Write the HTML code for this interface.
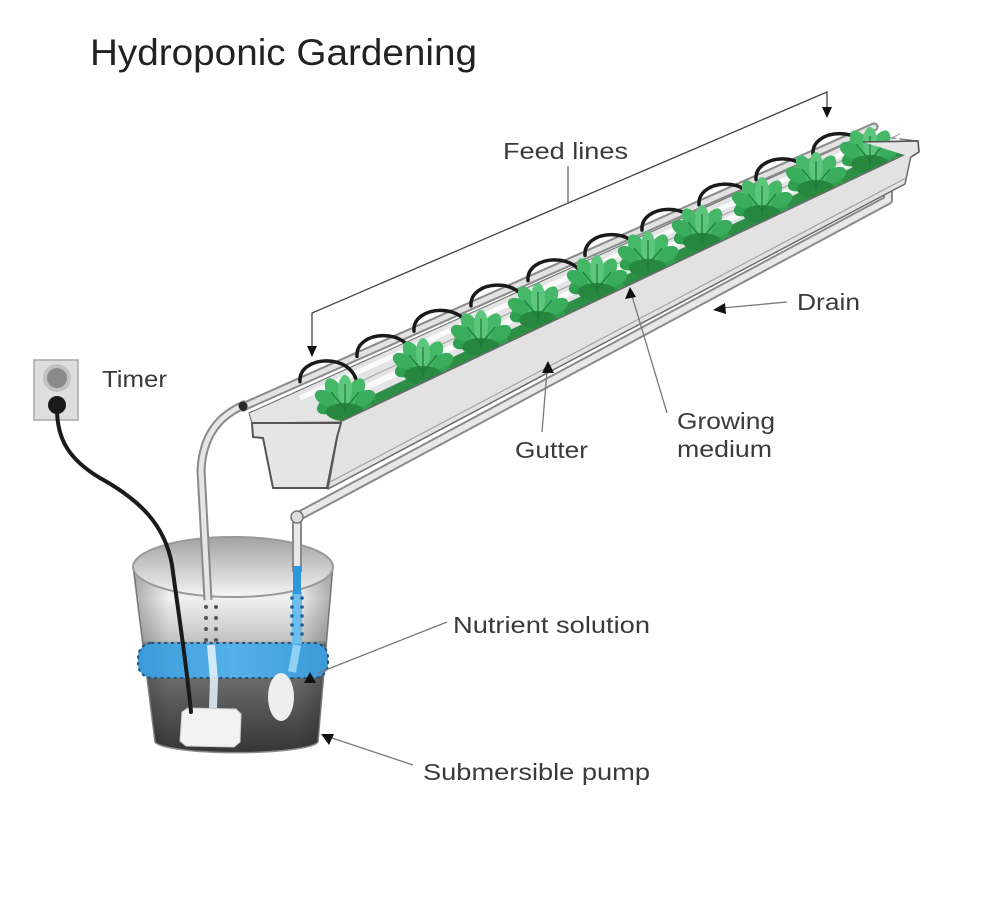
<!DOCTYPE html>
<html><head><meta charset="utf-8"><style>
html,body{margin:0;padding:0;background:#fff;}
svg{display:block;}
text{font-family:"Liberation Sans",Arial,sans-serif;}
</style></head><body>
<svg width="989" height="900" viewBox="0 0 989 900" xmlns="http://www.w3.org/2000/svg">
<defs>
 <linearGradient id="body" gradientUnits="userSpaceOnUse" x1="0" y1="560" x2="0" y2="752">
  <stop offset="0" stop-color="#d6d6d6"/>
  <stop offset="0.2" stop-color="#f0f0f0"/>
  <stop offset="0.42" stop-color="#c4c4c4"/>
  <stop offset="0.44" stop-color="#858585"/>
  <stop offset="0.62" stop-color="#6a6a6a"/>
  <stop offset="1" stop-color="#363636"/>
 </linearGradient>
 <linearGradient id="side" x1="0" y1="0" x2="1" y2="0">
  <stop offset="0" stop-color="#000" stop-opacity="0.28"/>
  <stop offset="0.18" stop-color="#000" stop-opacity="0"/>
  <stop offset="0.82" stop-color="#000" stop-opacity="0"/>
  <stop offset="1" stop-color="#000" stop-opacity="0.28"/>
 </linearGradient>
 <linearGradient id="open" x1="0" y1="0" x2="0" y2="1">
  <stop offset="0" stop-color="#a2a2a2"/>
  <stop offset="0.55" stop-color="#cfcfcf"/>
  <stop offset="1" stop-color="#f6f6f6"/>
 </linearGradient>
 <linearGradient id="blue" x1="0" y1="0" x2="1" y2="0">
  <stop offset="0" stop-color="#3b9bd8"/>
  <stop offset="0.5" stop-color="#55b0e8"/>
  <stop offset="1" stop-color="#3b9bd8"/>
 </linearGradient>
 <g id="plant">
  <ellipse cx="-15" cy="5" rx="14" ry="8" transform="rotate(-25 -15 5)" fill="#2f9f50"/>
  <ellipse cx="15" cy="5" rx="14" ry="8" transform="rotate(25 15 5)" fill="#2f9f50"/>
  <ellipse cx="-10" cy="-8" rx="8" ry="15" transform="rotate(-30 -10 -8)" fill="#46b968"/>
  <ellipse cx="10" cy="-8" rx="8" ry="15" transform="rotate(30 10 -8)" fill="#46b968"/>
  <ellipse cx="0" cy="-10" rx="7" ry="15" fill="#5cc77c"/>
  <ellipse cx="-20" cy="-2" rx="7" ry="11" transform="rotate(-60 -20 -2)" fill="#3aad5c"/>
  <ellipse cx="20" cy="-2" rx="7" ry="11" transform="rotate(60 20 -2)" fill="#3aad5c"/>
  <ellipse cx="0" cy="12" rx="19" ry="9" fill="#27873f"/>
  <path d="M0 14 L0 -16 M0 9 L-14 -8 M0 9 L14 -8" stroke="#1f7a36" stroke-width="1.2" fill="none"/>
 </g>
</defs>

<!-- Title -->
<text x="90" y="65" font-size="37" fill="#222" textLength="387" lengthAdjust="spacingAndGlyphs">Hydroponic Gardening</text>

<!-- Bucket -->
<path d="M133 566 L155 742 A82 12 0 0 0 318 742 L333 566 Z" fill="url(#body)" stroke="#8a8a8a" stroke-width="1.5"/>
<path d="M133 566 L155 742 A82 12 0 0 0 318 742 L333 566 Z" fill="url(#side)"/>
<ellipse cx="233" cy="567" rx="100" ry="30" fill="url(#open)" stroke="#999" stroke-width="2"/>
<!-- water band -->
<rect x="138" y="643" width="190" height="35" rx="14" fill="url(#blue)" stroke="#234f78" stroke-width="2" stroke-dasharray="1.5 5" stroke-linecap="round"/>
<!-- hose dots -->
<g fill="#555">
 <circle cx="206" cy="607" r="2"/><circle cx="216" cy="607" r="2"/>
 <circle cx="206" cy="618" r="2"/><circle cx="216" cy="618" r="2"/>
 <circle cx="206" cy="629" r="2"/><circle cx="216" cy="629" r="2"/>
 <circle cx="206" cy="640" r="2"/><circle cx="216" cy="640" r="2"/>
</g>
<path d="M211 645 L214 680 L213 708" stroke="#e6f2fa" stroke-width="8" fill="none" opacity="0.85"/>
<!-- drain return column -->
<rect x="292" y="592" width="10" height="52" fill="#6cbdec"/>
<g fill="#1e5f96">
 <circle cx="292" cy="598" r="1.8"/><circle cx="302" cy="598" r="1.8"/>
 <circle cx="292" cy="607" r="1.8"/><circle cx="302" cy="607" r="1.8"/>
 <circle cx="292" cy="616" r="1.8"/><circle cx="302" cy="616" r="1.8"/>
 <circle cx="292" cy="625" r="1.8"/><circle cx="302" cy="625" r="1.8"/>
 <circle cx="292" cy="634" r="1.8"/><circle cx="302" cy="634" r="1.8"/>
</g>
<path d="M297 645 L292 672" stroke="#8fd0f4" stroke-width="8" fill="none"/>
<!-- pump & splash -->
<path d="M182 712 L188 708 L236 709 L241 714 L240 742 L234 747 L186 746 L180 741 Z" fill="#f2f2f2" stroke="#cfcfcf" stroke-width="1"/>
<ellipse cx="281" cy="697" rx="13" ry="24" fill="#eeeeee"/>

<!-- Drain pipe -->
<path d="M888 190 L888 200 L297 517 L297 572" fill="none" stroke="#8a8a8a" stroke-width="10" stroke-linejoin="round"/>
<path d="M888 190 L888 200 L297 517 L297 572" fill="none" stroke="#e8e8e8" stroke-width="6" stroke-linejoin="round"/>
<circle cx="297" cy="517" r="6" fill="#dcdcdc" stroke="#777" stroke-width="1.5"/>
<line x1="297" y1="566" x2="297" y2="594" stroke="#2f95dd" stroke-width="8"/>

<!-- Gutter interior -->
<polygon points="252,423 249,413 866,135 918,141 912,151 340,422" fill="#e4e4e4" stroke="#777" stroke-width="1.2"/>
<line x1="300" y1="398" x2="900" y2="128" stroke="#fbfbfb" stroke-width="5"/>
<line x1="320" y1="400" x2="900" y2="134" stroke="#a9a9a9" stroke-width="1.2"/>
<line x1="330" y1="404" x2="900" y2="140" stroke="#fafafa" stroke-width="6"/>
<line x1="340" y1="411" x2="900" y2="146" stroke="#b0b0b0" stroke-width="1.2"/>
<!-- feed pipe -->
<line x1="245" y1="406" x2="874" y2="127" stroke="#8a8a8a" stroke-width="9" stroke-linecap="round"/>
<line x1="245" y1="406" x2="874" y2="127" stroke="#e2e2e2" stroke-width="5" stroke-linecap="round"/>
<circle cx="243" cy="407" r="4.5" fill="#2a2a2a"/>
<!-- green growing medium strip -->
<line x1="345" y1="414" x2="905" y2="148" stroke="#2d8f45" stroke-width="10"/>
<!-- feed arcs -->
<g fill="none" stroke="#1a1a1a" stroke-width="3.5" stroke-linecap="round">
 <path d="M300 381.6 c-2 -26 52 -30 57 2"/>
 <path d="M357 356.4 c-2 -26 52 -30 57 2"/>
 <path d="M414 331.1 c-2 -26 52 -30 57 2"/>
 <path d="M471 305.9 c-2 -26 52 -30 57 2"/>
 <path d="M528 280.6 c-2 -26 52 -30 57 2"/>
 <path d="M585 255.4 c-2 -26 52 -30 57 2"/>
 <path d="M642 230.1 c-2 -26 52 -30 57 2"/>
 <path d="M699 204.9 c-2 -26 52 -30 57 2"/>
 <path d="M756 179.6 c-2 -26 52 -30 57 2"/>
 <path d="M813 154.4 c-2 -26 52 -30 57 2"/>
</g>
<!-- plants -->
<use href="#plant" x="345" y="400"/>
<use href="#plant" x="423" y="363"/>
<use href="#plant" x="481" y="335"/>
<use href="#plant" x="538" y="308"/>
<use href="#plant" x="597" y="280"/>
<use href="#plant" x="648" y="256"/>
<use href="#plant" x="702" y="230"/>
<use href="#plant" x="762" y="202"/>
<use href="#plant" x="816" y="177"/>
<use href="#plant" x="870" y="152"/>
<!-- front face -->
<polygon points="340,422 912,151 905,184 328,489" fill="#e2e2e2" stroke="#6a6a6a" stroke-width="1.5" stroke-linejoin="round"/>
<line x1="330" y1="482" x2="906" y2="178" stroke="#9a9a9a" stroke-width="1"/>
<!-- right flange -->
<path d="M863 142 L918 141 L919 152 L911 157" fill="#e6e6e6" stroke="#555" stroke-width="1.6"/>
<!-- end cap -->
<polygon points="252,423 341,423 337,437 327,488 273,488 263,438 253,437" fill="#e6e6e6" stroke="#555" stroke-width="2" stroke-linejoin="round"/>

<!-- Supply hose -->
<path d="M246 404 C222 414 203 432 201 470 L208 600" fill="none" stroke="#8a8a8a" stroke-width="9"/>
<path d="M246 404 C222 414 203 432 201 470 L208 600" fill="none" stroke="#e6e6e6" stroke-width="5"/>
<circle cx="243" cy="406" r="4.5" fill="#2a2a2a"/>

<!-- Timer -->
<rect x="34" y="360" width="44" height="60" fill="#dedede" stroke="#a8a8a8" stroke-width="1.5"/>
<circle cx="57" cy="378" r="14" fill="#c2c2c2"/>
<circle cx="57" cy="378" r="10" fill="#8a8a8a"/>
<circle cx="57" cy="405" r="9" fill="#1a1a1a"/>
<!-- cord -->
<path d="M57 405 C56 440 70 460 100 478 C140 500 165 525 172 565 C178 610 186 660 191 712" fill="none" stroke="#1a1a1a" stroke-width="4" stroke-linecap="round"/>

<!-- Feed lines bracket -->
<path d="M312 348 L312 313 L827 92 L827 110" fill="none" stroke="#444" stroke-width="1.3"/>
<polygon points="307,346 317,346 312,357" fill="#111"/>
<polygon points="822,107 832,107 827,118" fill="#111"/>
<line x1="568" y1="166" x2="568" y2="204" stroke="#666" stroke-width="1.3"/>

<!-- Leaders -->
<g stroke="#777" stroke-width="1.3" fill="none">
 <line x1="787" y1="302" x2="722" y2="308"/>
 <line x1="667" y1="413" x2="632" y2="296"/>
 <line x1="542" y1="432" x2="547" y2="371"/>
 <line x1="447" y1="622" x2="318" y2="673"/>
 <line x1="413" y1="765" x2="332" y2="738"/>
</g>
<g fill="#111">
 <polygon points="713,310 725,303 726,314"/>
 <polygon points="630,287 625,299 636,297"/>
 <polygon points="548,361 542,373 554,373"/>
 <polygon points="310,672 304,683 316,683"/>
 <polygon points="321,734 334,734 329,745"/>
</g>

<!-- Labels -->
<g font-size="23" fill="#3a3a3a">
 <text x="503" y="159" textLength="125" lengthAdjust="spacingAndGlyphs">Feed lines</text>
 <text x="797" y="310" textLength="63" lengthAdjust="spacingAndGlyphs">Drain</text>
 <text x="677" y="429" textLength="98" lengthAdjust="spacingAndGlyphs">Growing</text>
 <text x="677" y="457" textLength="95" lengthAdjust="spacingAndGlyphs">medium</text>
 <text x="515" y="458" textLength="73" lengthAdjust="spacingAndGlyphs">Gutter</text>
 <text x="102" y="387" textLength="65" lengthAdjust="spacingAndGlyphs">Timer</text>
 <text x="453" y="633" textLength="197" lengthAdjust="spacingAndGlyphs">Nutrient solution</text>
 <text x="423" y="780" textLength="227" lengthAdjust="spacingAndGlyphs">Submersible pump</text>
</g>
</svg>
</body></html>
